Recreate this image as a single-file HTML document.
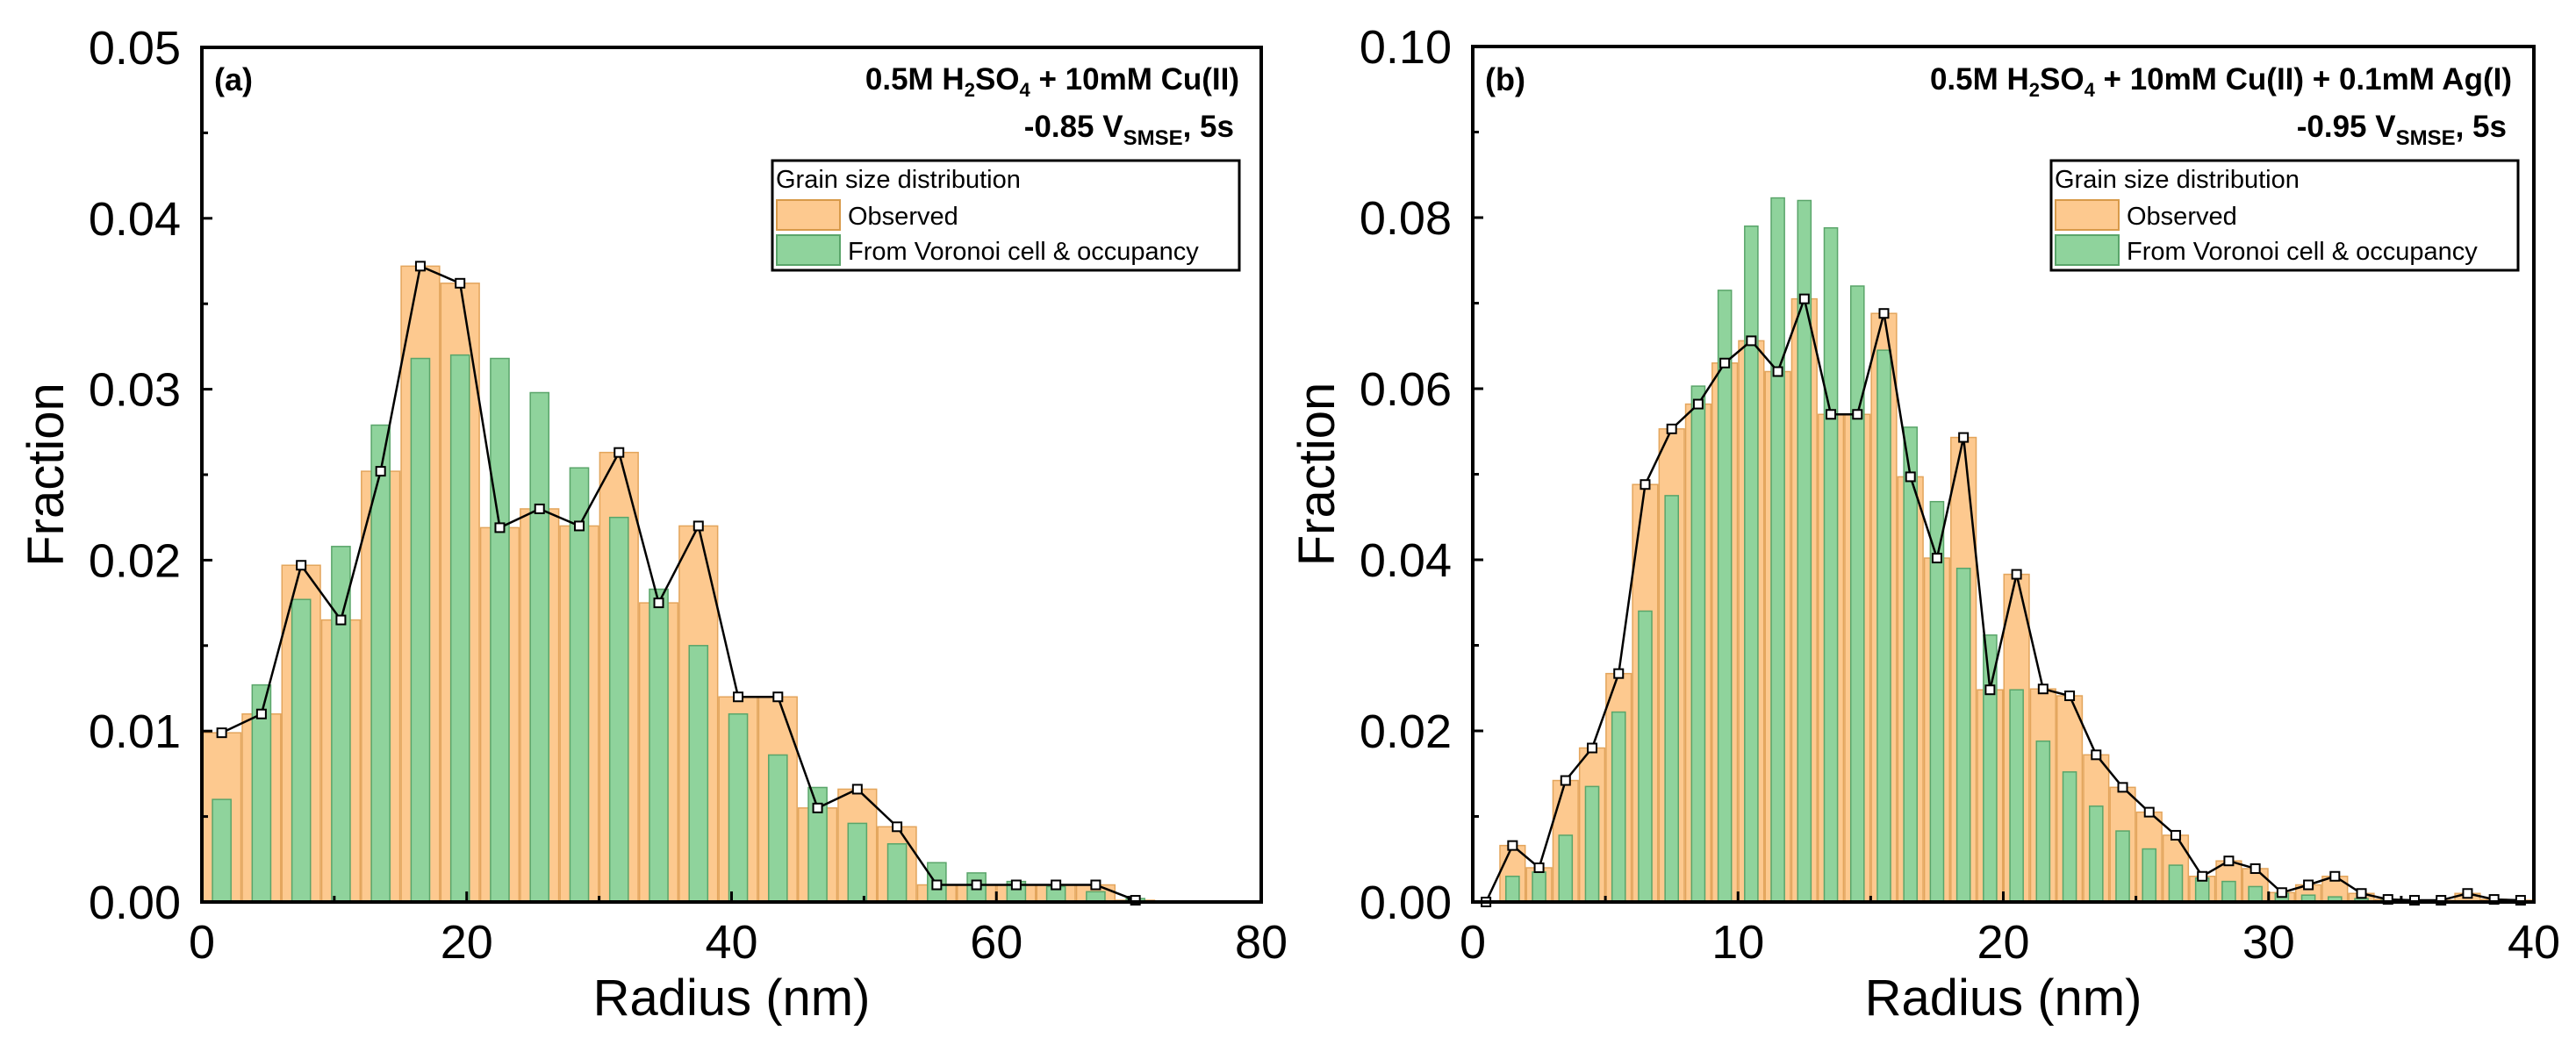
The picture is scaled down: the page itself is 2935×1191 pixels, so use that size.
<!DOCTYPE html>
<html><head><meta charset="utf-8"><style>
html,body{margin:0;padding:0;background:#fff}
svg{display:block}
text{font-family:"Liberation Sans",Arial,sans-serif;fill:#000}
</style></head><body>
<svg id="chart" width="2935" height="1191" viewBox="0 0 2935 1191" xmlns="http://www.w3.org/2000/svg"></svg>
<script>
const aRadius=[1.5,4.5,7.5,10.5,13.5,16.5,19.5,22.5,25.5,28.5,31.5,34.5,37.5,40.5,43.5,46.5,49.5,52.5,55.5,58.5,61.5,64.5,67.5,70.5];
const aObserved=[0.0099,0.011,0.0197,0.0165,0.0252,0.0372,0.0362,0.0219,0.023,0.022,0.0263,0.0175,0.022,0.012,0.012,0.0055,0.0066,0.0044,0.001,0.001,0.001,0.001,0.001,0.0001];
const aVoronoi=[0.006,0.0127,0.0177,0.0208,0.0279,0.0318,0.032,0.0318,0.0298,0.0254,0.0225,0.0183,0.015,0.011,0.0086,0.0067,0.0046,0.0034,0.0023,0.0017,0.0012,0.0009,0.0006,0.0002];
const bRadius=[0.5,1.5,2.5,3.5,4.5,5.5,6.5,7.5,8.5,9.5,10.5,11.5,12.5,13.5,14.5,15.5,16.5,17.5,18.5,19.5,20.5,21.5,22.5,23.5,24.5,25.5,26.5,27.5,28.5,29.5,30.5,31.5,32.5,33.5,34.5,35.5,36.5,37.5,38.5,39.5];
const bObserved=[0,0.0066,0.004,0.0142,0.018,0.0267,0.0488,0.0553,0.0582,0.063,0.0656,0.062,0.0705,0.057,0.057,0.0688,0.0497,0.0402,0.0543,0.0248,0.0383,0.0249,0.0241,0.0172,0.0134,0.0105,0.0078,0.003,0.0048,0.0039,0.0011,0.002,0.003,0.001,0.0003,0.0002,0.0002,0.001,0.0003,0.0002];
const bVoronoi=[0,0.003,0.0035,0.0078,0.0135,0.0222,0.034,0.0475,0.0603,0.0715,0.079,0.0823,0.082,0.0788,0.072,0.0645,0.0555,0.0468,0.039,0.0312,0.0248,0.0188,0.0152,0.0112,0.0083,0.0062,0.0043,0.0028,0.0024,0.0018,0.001,0.0008,0.0006,0.0004,0.0002,0.0001,0.0001,0.0001,0,0];
const aXTicks=[0,20,40,60,80];
const aYTicks=["0.00","0.01","0.02","0.03","0.04","0.05"];
const bXTicks=[0,10,20,30,40];
const bYTicks=["0.00","0.02","0.04","0.06","0.08","0.10"];

const NS="http://www.w3.org/2000/svg";
const svg=document.getElementById('chart');
function mk(tag,attrs,parent){const e=document.createElementNS(NS,tag);for(const k in attrs)e.setAttribute(k,attrs[k]);(parent||svg).appendChild(e);return e;}

function panel(o){
  const g=mk('g',{});
  
  
  const X=v=>o.x0+(v-o.xmin)/(o.xmax-o.xmin)*(o.x1-o.x0);
  const Y=v=>o.y0-(v-o.ymin)/(o.ymax-o.ymin)*(o.y0-o.y1);
  o.xs.forEach((x,i)=>{
    const r=mk('rect',{x:X(x-o.ow/2),y:Y(o.obs[i]),width:X(o.ow)-X(0),height:o.y0-Y(o.obs[i]),fill:'#fdc98f',stroke:'#e3a55c','stroke-width':1.5},g);
    
    
  });
  o.xs.forEach((x,i)=>{
    const r=mk('rect',{x:X(x-o.gw/2),y:Y(o.vor[i]),width:X(o.gw)-X(0),height:o.y0-Y(o.vor[i]),fill:'#8fd39c',stroke:'#5aa56a','stroke-width':1.5},g);
    
    
  });
  const pts=o.xs.map((x,i)=>X(x)+','+Y(o.obs[i])).join(' ');
  const pl=mk('polyline',{points:pts,fill:'none',stroke:'#000','stroke-width':2.5},g);
  
  
  o.xs.forEach((x,i)=>{
    const m=mk('rect',{x:X(x)-5,y:Y(o.obs[i])-5,width:10,height:10,fill:'#fff',stroke:'#000','stroke-width':2},g);
    
    
  });
  const f=mk('rect',{x:o.x0,y:o.y1,width:o.x1-o.x0,height:o.y0-o.y1,fill:'none',stroke:'#000','stroke-width':4},g);
  
  
  const xstep=o.xt[1]-o.xt[0];
  for(let v=o.xmin;v<=o.xmax+1e-9;v+=xstep/2){
    const len=(Math.abs((v/xstep)-Math.round(v/xstep))<1e-6)?12:7;
    mk('line',{x1:X(v),x2:X(v),y1:o.y0,y2:o.y0-len,stroke:'#000','stroke-width':3},g);
  }
  o.xt.forEach(v=>{
    const t=mk('text',{x:X(v),y:o.y0+64,'font-size':54,'text-anchor':'middle'},g);
    t.textContent=v;
    
    
  });
  const ystep=(o.ymax-o.ymin)/(o.yt.length-1);
  for(let k=0;k<=(o.yt.length-1)*2;k++){
    const v=o.ymin+k*ystep/2;
    mk('line',{x1:o.x0,x2:o.x0+(k%2?7:12),y1:Y(v),y2:Y(v),stroke:'#000','stroke-width':3},g);
  }
  o.yt.forEach((s,k)=>{
    const t=mk('text',{x:o.x0-24,y:Y(o.ymin+k*ystep)+19,'font-size':54,'text-anchor':'end'},g);
    t.textContent=s;
    
    
  });
  const xl=mk('text',{x:(o.x0+o.x1)/2,y:1157,'font-size':58,'text-anchor':'middle'},g);
  xl.textContent='Radius (nm)';
  
  
  const yl=mk('text',{x:0,y:0,'font-size':58,'text-anchor':'middle',transform:`translate(${o.x0-158},${(o.y0+o.y1)/2}) rotate(-90)`},g);
  yl.textContent='Fraction';
  
  
  const pl2=mk('text',{x:o.x0+14,y:103,'font-size':36,'font-weight':'bold'},g);
  pl2.textContent=o.label;
  
  
  const t1=mk('text',{x:o.tr,y:102,'font-size':35,'font-weight':'bold','text-anchor':'end'},g);
  t1.innerHTML=o.t1;
  
  
  const t2=mk('text',{x:o.tr-6,y:156,'font-size':35,'font-weight':'bold','text-anchor':'end'},g);
  t2.innerHTML=o.t2;
  
  
  const lg=mk('g',{},g);
  
  
  mk('rect',{x:o.lx,y:183,width:532,height:125,fill:'#fff',stroke:'#000','stroke-width':3},lg);
  const lt=mk('text',{x:o.lx+4,y:214,'font-size':29},lg);
  lt.textContent='Grain size distribution';
  
  
  mk('rect',{x:o.lx+5,y:228,width:72,height:34,fill:'#fdc98f',stroke:'#d89a4a','stroke-width':2},lg);
  mk('rect',{x:o.lx+5,y:268,width:72,height:34,fill:'#8fd39c',stroke:'#5aa56a','stroke-width':2},lg);
  const e1=mk('text',{x:o.lx+86,y:256,'font-size':29},lg);
  e1.textContent='Observed';
  
  
  const e2=mk('text',{x:o.lx+86,y:296,'font-size':29},lg);
  e2.textContent='From Voronoi cell & occupancy';
  
  
}
panel({id:'a',x0:230,x1:1437,y0:1028,y1:54,xmin:0,xmax:80,ymin:0,ymax:0.05,xs:aRadius,obs:aObserved,vor:aVoronoi,ow:2.9,gw:1.4,xt:aXTicks,yt:aYTicks,label:'(a)',tr:1412,lx:880,
  t1:'0.5M H<tspan font-size="22" dy="8">2</tspan><tspan dy="-8">SO</tspan><tspan font-size="22" dy="8">4</tspan><tspan dy="-8"> + 10mM Cu(II)</tspan>',
  t2:'-0.85 V<tspan font-size="24" dy="9">SMSE</tspan><tspan dy="-9">, 5s</tspan>'});
panel({id:'b',x0:1678,x1:2887,y0:1028,y1:53,xmin:0,xmax:40,ymin:0,ymax:0.10,xs:bRadius,obs:bObserved,vor:bVoronoi,ow:0.95,gw:0.5,xt:bXTicks,yt:bYTicks,label:'(b)',tr:2862,lx:2337,
  t1:'0.5M H<tspan font-size="22" dy="8">2</tspan><tspan dy="-8">SO</tspan><tspan font-size="22" dy="8">4</tspan><tspan dy="-8"> + 10mM Cu(II) + 0.1mM Ag(I)</tspan>',
  t2:'-0.95 V<tspan font-size="24" dy="9">SMSE</tspan><tspan dy="-9">, 5s</tspan>'});
</script>
</body></html>
